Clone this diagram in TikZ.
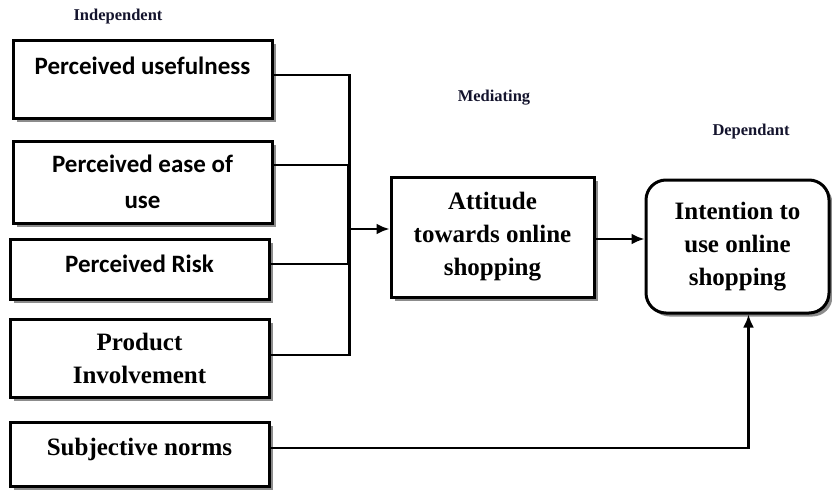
\documentclass[tikz,border=0pt]{standalone}
\usepackage{fontspec}
\setmainfont{Liberation Serif}
\newfontfamily\calibrifont{Carlito}
\usetikzlibrary{arrows.meta,shadows}
\definecolor{headnavy}{RGB}{20,20,45}
\tikzset{
  var/.style={draw, line width=3pt, fill=white, align=center, inner sep=2pt,
    general shadow={fill=black!45, shadow xshift=3.5pt, shadow yshift=-3.5pt},
    font=\bfseries\fontsize{25}{33}\selectfont},
  sansvar/.style={var, font=\calibrifont\bfseries\fontsize{25}{36}\selectfont},
  head/.style={font=\bfseries\fontsize{16.5}{20}\selectfont, text=headnavy},
  conn/.style={line width=2.4pt},
  arr/.style={conn, -{Latex[length=13pt,width=11pt]}}
}
\begin{document}
\begin{tikzpicture}[x=1pt,y=-1pt]
\useasboundingbox (0,0) rectangle (832,490);

% column headings
\node[head] (indep) at (118,17) {Independent};
\node[head] (med) at (494,98) {Mediating};
\node[head] (dep) at (751,132) {Dependant};

% independent variables
\node[sansvar, minimum width=259pt, minimum height=78pt, text height=16pt, text depth=26pt] (pu) at (142.5,79) {Perceived usefulness};
\node[sansvar, minimum width=259pt, minimum height=82pt] (peu) at (142.5,182) {Perceived ease of\\ use};
\node[sansvar, minimum width=259pt, minimum height=60pt, text height=16pt, text depth=10pt] (pr) at (139.5,269) {Perceived Risk};
\node[var, minimum width=259pt, minimum height=78pt] (pi) at (139.5,358) {Product\\ Involvement};
\node[var, minimum width=259pt, minimum height=64pt, text height=16pt, text depth=13pt] (sn) at (139.5,454) {Subjective norms};

% mediating and dependent variables
\node[var, minimum width=203pt, minimum height=120pt] (att) at (492.5,237) {Attitude\\ towards online\\ shopping};
\node[var, rounded corners=20pt, minimum width=183pt, minimum height=133pt] (int) at (737.5,246.5) {Intention to\\ use online\\ shopping};

% connectors
\coordinate (bus) at (348,229);
\draw[conn] ([yshift=4pt]pu.east) -| ([xshift=79pt,yshift=3pt]pi.east) -- ([yshift=3pt]pi.east);
\draw[conn] ([yshift=17pt]peu.east) -| (bus);
\draw[conn] ([yshift=5pt]pr.east) -| (bus);
\draw[arr] (bus) -- (bus -| att.west);
\draw[arr] ([yshift=-2pt]att.east) -- ([yshift=-2pt]att.east -| int.west);
\draw[arr] ([yshift=6pt]sn.east) -| ([xshift=11pt]int.south);
\end{tikzpicture}
\end{document}
